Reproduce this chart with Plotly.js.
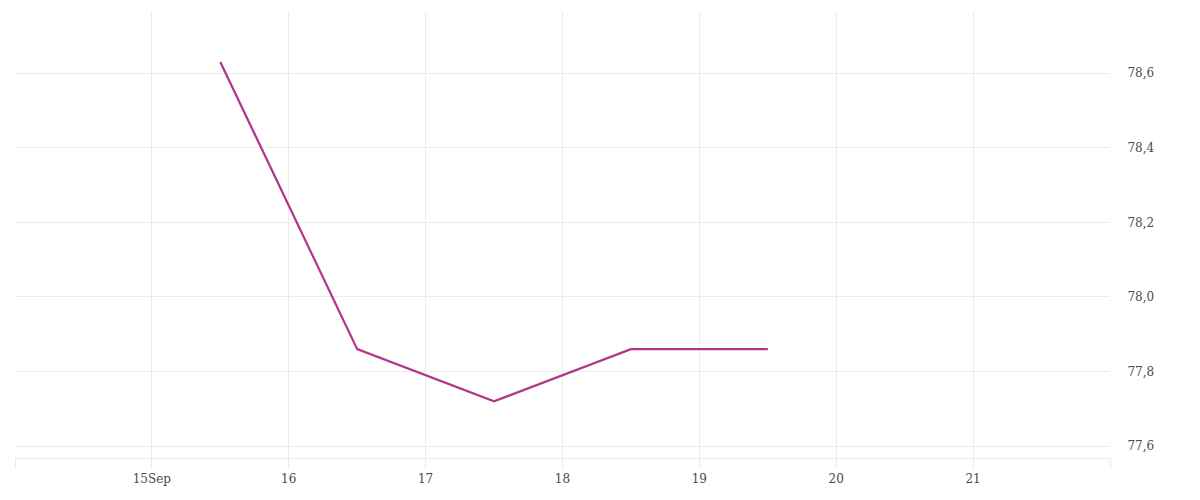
<!DOCTYPE html>
<html>
<head>
<meta charset="utf-8">
<script src="https://cdn.plot.ly/plotly-3.0.1.min.js"></script>
<style>
  html, body { margin: 0; padding: 0; background: #fff; }
  #chart { width: 1200px; height: 500px; }
</style>
</head>
<body>
<div id="chart"></div>
<script>
// data
const dates = ['2023-09-15 12:00', '2023-09-16 12:00', '2023-09-17 12:00', '2023-09-18 12:00', '2023-09-19 12:00'];
const values = [78.63, 77.86, 77.72, 77.86, 77.86];

const tickDays = ['2023-09-14', '2023-09-15', '2023-09-16', '2023-09-17', '2023-09-18', '2023-09-19', '2023-09-20', '2023-09-21', '2023-09-22'];
const tickLabels = ['', '15Sep', '16', '17', '18', '19', '20', '21', ''];
const yTicks = [77.6, 77.8, 78.0, 78.2, 78.4, 78.6];

const trace = {
  x: dates,
  y: values,
  type: 'scatter',
  mode: 'lines',
  line: { color: '#b5338a', width: 2.2 },
  hoverinfo: 'skip'
}

const layout = {
  width: 1200,
  height: 500,
  margin: { l: 15, r: 90, t: 12, b: 42 },
  paper_bgcolor: '#fff',
  plot_bgcolor: '#fff',
  separators: ', ',
  showlegend: false,
  font: { family: 'DejaVu Serif, serif', size: 12, color: '#4a4a4a' },
  xaxis: {
    type: 'date',
    range: ['2023-09-14', '2023-09-22'],
    tickmode: 'array',
    tickvals: tickDays,
    ticktext: tickLabels,
    ticks: 'outside',
    ticklen: 10,
    tickcolor: '#ebebeb',
    showgrid: true,
    gridcolor: '#ebebeb',
    showline: true,
    linecolor: '#ebebeb',
    zeroline: false,
    fixedrange: true
  },
  yaxis: {
    side: 'right',
    range: [77.568, 78.764],
    tickmode: 'array',
    tickvals: yTicks,
    tickformat: '.1f',
    ticks: 'outside',
    ticklen: 14,
    tickcolor: 'rgba(0,0,0,0)',
    showgrid: true,
    gridcolor: '#ebebeb',
    zeroline: false,
    showline: false,
    fixedrange: true
  }
}

Plotly.newPlot('chart', [trace], layout, { displayModeBar: false, staticPlot: true })
</script>
</body>
</html>
